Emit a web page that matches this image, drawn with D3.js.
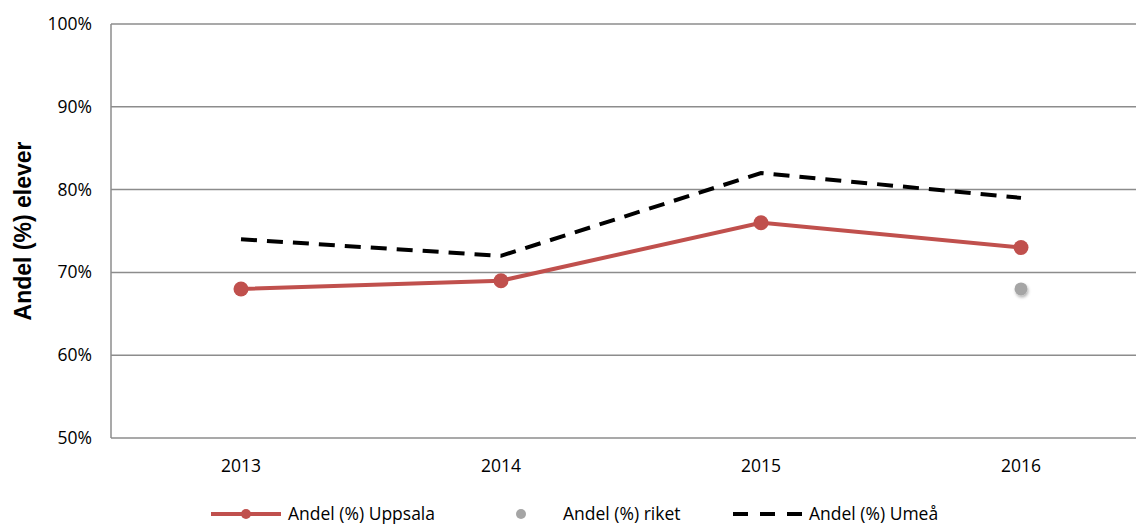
<!DOCTYPE html>
<html><head><meta charset="utf-8">
<script src="https://cdn.jsdelivr.net/npm/d3@7"></script>
<style>body{margin:0;background:#fff}</style>
</head><body>
<svg id="c" width="1136" height="525"></svg>
<script>
const years = ["2013","2014","2015","2016"];
const uppsala = [68, 69, 76, 73];
const riket = [null, null, null, 68];
const umea = [74, 72, 82, 79];
const yTicks = [50, 60, 70, 80, 90, 100];

(function(){
const svg = d3.select("#c");
const pL = 111, pR = 1151, pT = 24, pB = 438;
const x = d3.scaleBand().domain(years).range([pL, pR]);
const y = d3.scaleLinear().domain([50, 100]).range([pB, pT]);
const font = "'Open Sans', 'Liberation Sans', sans-serif";
const fs = 17.5;

const defs = svg.append("defs");
const f = defs.append("filter").attr("id","sh").attr("x","-100%").attr("y","-100%").attr("width","300%").attr("height","300%");
f.append("feDropShadow").attr("dx",1).attr("dy",2).attr("stdDeviation",1.8).attr("flood-color","#000").attr("flood-opacity",0.3);

// gridlines
svg.append("g").selectAll("line").data(yTicks).join("line")
  .attr("x1", pL).attr("x2", 1136).attr("y1", d => y(d)).attr("y2", d => y(d))
  .attr("stroke", "#8c8c8c").attr("stroke-width", 1.5);
svg.append("line").attr("x1", pL).attr("x2", pL).attr("y1", pT).attr("y2", pB)
  .attr("stroke", "#8c8c8c").attr("stroke-width", 1.5);

// y tick labels
svg.append("g").selectAll("text").data(yTicks).join("text")
  .attr("x", 92).attr("y", d => y(d) + 6).attr("text-anchor", "end")
  .attr("font-family", font).attr("font-size", fs).attr("fill", "#000")
  .text(d => d + "%");
// x labels
svg.append("g").selectAll("text").data(years).join("text")
  .attr("x", d => x(d) + x.bandwidth()/2).attr("y", 472).attr("text-anchor", "middle")
  .attr("font-family", font).attr("font-size", fs).attr("fill", "#000")
  .text(d => d);
// y title
svg.append("text").attr("transform", "translate(31,231) rotate(-90)")
  .attr("text-anchor", "middle").attr("font-family", "'Liberation Sans', Arial, sans-serif")
  .attr("font-weight", "bold").attr("font-size", 23).text("Andel (%) elever");

const cx = d => x(d) + x.bandwidth()/2;
const line = d3.line().defined(d => d[1] != null).x(d => cx(d[0])).y(d => y(d[1]));

// Umeå dashed
svg.append("path").datum(years.map((yr,i) => [yr, umea[i]]))
  .attr("d", line).attr("fill", "none").attr("stroke", "#000")
  .attr("stroke-width", 4).attr("stroke-dasharray", "16,10");

// Uppsala
svg.append("path").datum(years.map((yr,i) => [yr, uppsala[i]]))
  .attr("d", line).attr("fill", "none").attr("stroke", "#C0504D").attr("stroke-width", 4);
svg.append("g").selectAll("circle").data(years.map((yr,i) => [yr, uppsala[i]])).join("circle")
  .attr("cx", d => cx(d[0])).attr("cy", d => y(d[1])).attr("r", 7.5).attr("fill", "#C0504D");

// riket
svg.append("g").selectAll("circle").data(years.map((yr,i) => [yr, riket[i]]).filter(d => d[1] != null)).join("circle")
  .attr("cx", d => cx(d[0])).attr("cy", d => y(d[1])).attr("r", 6.5).attr("fill", "#A5A5A5").attr("filter","url(#sh)");

// legend
const ly = 514;
const lg = svg.append("g");
lg.append("line").attr("x1", 211).attr("x2", 281).attr("y1", ly).attr("y2", ly).attr("stroke", "#C0504D").attr("stroke-width", 4);
lg.append("circle").attr("cx", 246).attr("cy", ly).attr("r", 5).attr("fill", "#C0504D");
lg.append("text").attr("x", 288).attr("y", ly + 6).attr("font-family", font).attr("font-size", fs).text("Andel (%) Uppsala");
lg.append("circle").attr("cx", 521).attr("cy", ly).attr("r", 5).attr("fill", "#A5A5A5");
lg.append("text").attr("x", 563).attr("y", ly + 6).attr("font-family", font).attr("font-size", fs).text("Andel (%) riket");
lg.append("line").attr("x1", 733).attr("x2", 803).attr("y1", ly).attr("y2", ly).attr("stroke", "#000").attr("stroke-width", 4).attr("stroke-dasharray", "15,12");
lg.append("text").attr("x", 809).attr("y", ly + 6).attr("font-family", font).attr("font-size", fs).text("Andel (%) Umeå");
})();
</script>
</body></html>
